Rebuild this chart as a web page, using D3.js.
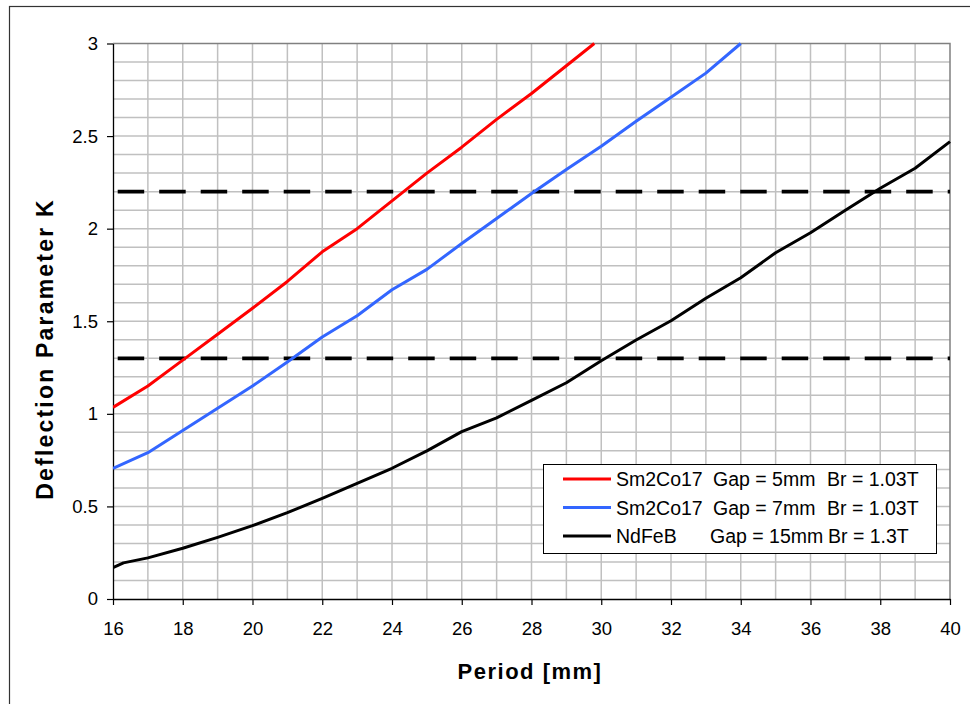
<!DOCTYPE html>
<html>
<head>
<meta charset="utf-8">
<script src="https://cdn.jsdelivr.net/npm/d3@7"></script>
<style>
  html, body { margin: 0; padding: 0; background: #fff; }
  svg { display: block; font-family: "Liberation Sans", Arial, sans-serif; }
</style>
</head>
<body>
<svg id="chart" width="970" height="704"></svg>
<script>
// ---- data ----
const periodRed   = [16, 17, 18, 19, 20, 21, 22, 23, 24, 25, 26, 27, 28, 29, 29.8];
const kRed        = [1.035, 1.15, 1.29, 1.43, 1.57, 1.715, 1.875, 2.0, 2.15, 2.30, 2.44, 2.59, 2.73, 2.88, 3.0];
const periodBlue  = [16, 17, 18, 19, 20, 21, 22, 23, 24, 25, 26, 27, 28, 29, 30, 31, 32, 33, 34];
const kBlue       = [0.705, 0.79, 0.91, 1.03, 1.15, 1.28, 1.415, 1.53, 1.67, 1.78, 1.92, 2.055, 2.19, 2.32, 2.445, 2.58, 2.71, 2.84, 3.0];
const periodBlack = [16, 16.3, 17, 18, 19, 20, 21, 22, 23, 24, 25, 26, 27, 28, 29, 30, 31, 32, 33, 34, 35, 36, 37, 38, 39, 40];
const kBlack      = [0.17, 0.195, 0.222, 0.274, 0.333, 0.396, 0.466, 0.544, 0.625, 0.706, 0.80, 0.904, 0.978, 1.073, 1.168, 1.287, 1.399, 1.503, 1.624, 1.735, 1.87, 1.978, 2.10, 2.218, 2.326, 2.47];
const seriesMaterial = ["Sm2Co17", "Sm2Co17", "NdFeB"];
const seriesGap      = ["Gap = 5mm", "Gap = 7mm", "Gap = 15mm"];
const seriesBr       = ["Br = 1.03T", "Br = 1.03T", "Br = 1.3T"];
const seriesColors = ["#ff0000", "#3366ff", "#000000"];
const refLevels = [2.2, 1.3];
const xTicks = [16, 18, 20, 22, 24, 26, 28, 30, 32, 34, 36, 38, 40];
const yTicks = [0, 0.5, 1, 1.5, 2, 2.5, 3];
const xTitle = "Period [mm]";
const yTitle = "Deflection Parameter K";

// ---- layout ----
const svg = d3.select("#chart");
const L = 113, R = 950, T = 43.5, B = 599;
const x = d3.scaleLinear().domain([16, 40]).range([L, R]);
const y = d3.scaleLinear().domain([0, 3]).range([B, T]);

svg.append("rect").attr("x", 0).attr("y", 0).attr("width", 970).attr("height", 704).attr("fill", "#fff");
// outer frame
svg.append("rect").attr("x", 9.5).attr("y", 6.5).attr("width", 1200).attr("height", 1200)
  .attr("fill", "none").attr("stroke", "#333").attr("stroke-width", 1.2);

// grid
const g = svg.append("g");
g.selectAll("line.vg").data(d3.range(17, 40, 1)).join("line")
  .attr("x1", d => x(d)).attr("x2", d => x(d)).attr("y1", T).attr("y2", B)
  .attr("stroke", "#c0c0c0").attr("stroke-width", 1.5);
g.selectAll("line.hg").data(d3.range(1, 30, 1).map(d => d / 10)).join("line")
  .attr("x1", L).attr("x2", R).attr("y1", d => y(d)).attr("y2", d => y(d))
  .attr("stroke", "#c0c0c0").attr("stroke-width", 1.5);
// plot border (top, right)
svg.append("path").attr("d", `M${L},${T}H${R}V${B}`).attr("fill", "none")
  .attr("stroke", "#808080").attr("stroke-width", 1.5);

// axes
const xAxis = d3.axisBottom(x).tickValues(xTicks).tickSize(6).tickPadding(17).tickSizeOuter(0);
const yAxis = d3.axisLeft(y).tickValues(yTicks).tickSize(6).tickPadding(9).tickSizeOuter(0)
  .tickFormat(d3.format("~g"));
const gx = svg.append("g").attr("transform", `translate(0,${B})`).call(xAxis);
const gy = svg.append("g").attr("transform", `translate(${L},0)`).call(yAxis);
[gx, gy].forEach(a => {
  a.select(".domain").attr("stroke", "#000").attr("stroke-width", 1.3);
  a.selectAll(".tick line").attr("stroke", "#000").attr("stroke-width", 1.2);
  a.selectAll(".tick text").attr("fill", "#000").attr("font-size", "18.5px")
    .attr("font-family", "'Liberation Sans', Arial, sans-serif");
});

// reference dashed lines
svg.selectAll("line.ref").data(refLevels).join("line")
  .attr("x1", x(16)).attr("x2", x(40)).attr("y1", d => y(d)).attr("y2", d => y(d))
  .attr("stroke", "#000").attr("stroke-width", 3.7)
  .attr("stroke-dasharray", "26.5,15").attr("stroke-dashoffset", 36.8);

// curves
svg.append("clipPath").attr("id", "plotclip").append("rect")
  .attr("x", L).attr("y", T - 2).attr("width", R - L + 2).attr("height", B - T + 2);
const line = d3.line().x(d => x(d[0])).y(d => y(d[1])).curve(d3.curveLinear);
const series = [
  d3.zip(periodRed, kRed),
  d3.zip(periodBlue, kBlue),
  d3.zip(periodBlack, kBlack)
];
svg.append("g").attr("clip-path", "url(#plotclip)")
  .selectAll("path").data(series).join("path")
  .attr("d", line).attr("fill", "none")
  .attr("stroke", (d, i) => seriesColors[i]).attr("stroke-width", 3)
  .attr("stroke-linejoin", "round");

// legend
const lg = svg.append("g");
lg.append("rect").attr("x", 543.5).attr("y", 464.5).attr("width", 393).attr("height", 89)
  .attr("fill", "#fff").attr("stroke", "#000").attr("stroke-width", 1);
const rowY = [479, 507.5, 536];
const colX = [616, [713, 713, 710], [827, 827, 828]];
seriesMaterial.forEach((name, i) => {
  lg.append("line").attr("x1", 563).attr("x2", 611).attr("y1", rowY[i]).attr("y2", rowY[i])
    .attr("stroke", seriesColors[i]).attr("stroke-width", 3);
  const t = lg.append("text").attr("y", rowY[i] + 7).attr("font-size", "19.5px").attr("fill", "#000");
  t.append("tspan").attr("x", colX[0]).text(name);
  t.append("tspan").attr("x", colX[1][i]).text(seriesGap[i]);
  t.append("tspan").attr("x", colX[2][i]).text(seriesBr[i]);
});

// titles
svg.append("text").attr("x", 530).attr("y", 679).attr("text-anchor", "middle")
  .attr("font-size", "22px").attr("font-weight", "bold").attr("letter-spacing", "1.5px")
  .text(xTitle);
svg.append("text").attr("transform", "translate(53,349) rotate(-90)").attr("text-anchor", "middle")
  .attr("font-size", "23px").attr("font-weight", "bold").attr("letter-spacing", "2.2px")
  .text(yTitle);
</script>
</body>
</html>
